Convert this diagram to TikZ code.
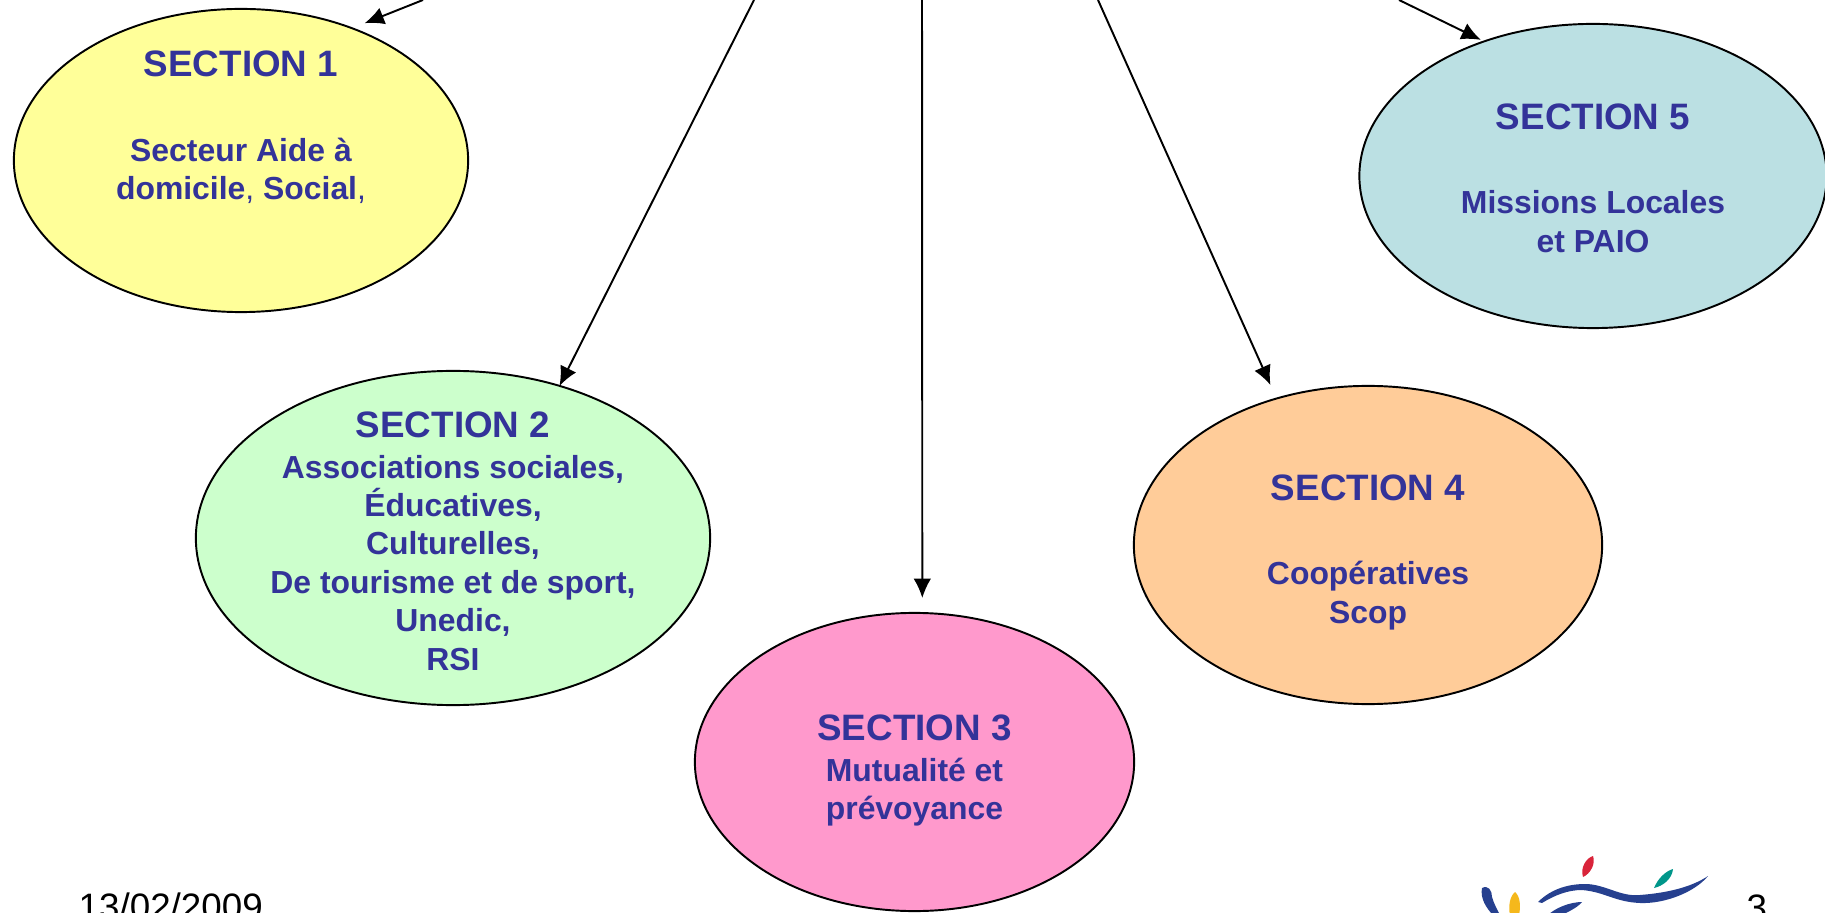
\documentclass[tikz,border=0pt]{standalone}
\usepackage{fontspec}
\setmainfont{Liberation Sans}
\usetikzlibrary{shapes.geometric,arrows.meta}
\definecolor{sectext}{HTML}{333399}
\definecolor{logoblue}{HTML}{26408F}
\definecolor{logored}{HTML}{D9243A}
\definecolor{logoteal}{HTML}{00968A}
\definecolor{logoyellow}{HTML}{F5B81C}
\tikzset{>={Latex[length=5.5pt,width=5pt]}}
\tikzset{
  secbox/.style = {
    ellipse, draw, line width=0.55pt, inner sep=-2cm, outer sep=0pt,
    align=center, text=sectext,
    font=\fontsize{9.07}{10.93}\selectfont\bfseries
  },
  link/.style = {->, line width=0.55pt},
  slide/.style = {font=\fontsize{10.46}{12}\selectfont, anchor=base west, inner sep=0pt}
}
\newcommand{\sectitle}[2][0pt]{{\fontsize{10.46}{10.93}\selectfont\rule{0pt}{#1}#2}}

\begin{document}
\begin{tikzpicture}[x=0.01cm,y=-0.01cm]
  \useasboundingbox (0,0) rectangle (1825,913);
  \clip (0,0) rectangle (1825,913);
  \node[secbox,fill={rgb,255:red,255;green,255;blue,153},minimum width=4.54cm,minimum height=3.03cm] (sec1) at (241,160.5)
    {\sectitle{SECTION 1}\\[13pt]Secteur Aide à\\domicile{\mdseries ,} Social{\mdseries ,}\\[9pt]\mbox{}};
  \node[secbox,fill={rgb,255:red,204;green,255;blue,204},minimum width=5.14cm,minimum height=3.34cm] (sec2) at (453,538)
    {\sectitle[9pt]{SECTION 2}\\[0.7pt]Associations sociales,\\Éducatives,\\Culturelles,\\De tourisme et de sport,\\Unedic,\\RSI};
  \node[secbox,fill={rgb,255:red,255;green,153;blue,204},minimum width=4.39cm,minimum height=2.98cm] (sec3) at (914.5,762)
    {\sectitle[12.2pt]{SECTION 3}\\[0.7pt]Mutualité et\\prévoyance};
  \node[secbox,fill={rgb,255:red,255;green,204;blue,153},minimum width=4.68cm,minimum height=3.18cm] (sec4) at (1368,545)
    {\sectitle[11.6pt]{SECTION 4}\\[13pt]Coopératives\\Scop};
  \node[secbox,fill={rgb,255:red,187;green,224;blue,227},minimum width=4.67cm,minimum height=3.04cm] (sec5) at (1593,176)
    {\sectitle[8.6pt]{SECTION 5}\\[13pt]Missions Locales\\et PAIO};
  \coordinate (top1) at (423,0);
  \coordinate (top2) at (754,0);
  \coordinate (top3) at (922,0);
  \coordinate (top4) at (1098,0);
  \coordinate (top5) at (1399,0);
  \draw[link,shorten >=0.136cm] (top1) -- (sec1.50.5);
  \draw[link] (top2) -- (sec2.55.3);
  \draw[link,shorten >=0.15cm] (top3) -- (sec3.87.1);
  \draw[link,shorten >=0.148cm] (top4) -- (sec4.122.5);
  \draw[link,shorten >=0.036cm] (top5) -- (sec5.129);
  \node[slide] (date) at (78,919) {13/02/2009};
  \node[slide] (page) at (1746,920) {3};
  \fill[logored] (1583,877) .. controls (1580,868) and (1586,858) .. (1593,856) .. controls (1596,864) and (1590,874) .. (1583,877);
  \fill[logoteal] (1654,888) .. controls (1658,878) and (1666,871) .. (1673,869) .. controls (1672,879) and (1663,886) .. (1654,888);
  \fill[logoyellow] (1515,892) .. controls (1520,896) and (1521,906) .. (1519,915) -- (1510,915) .. controls (1508,906) and (1510,896) .. (1515,892);
  \fill[logoblue] (1538,902) .. controls (1552,888) and (1570,884) .. (1585,884) .. controls (1605,884) and (1620,897) .. (1640,895) .. controls (1665,893) and (1690,888) .. (1708,876) .. controls (1695,892) and (1665,904) .. (1640,903) .. controls (1615,902) and (1605,892) .. (1582,890) .. controls (1568,890) and (1555,895) .. (1542,903) -- cycle;
  \fill[logoblue] (1482,888) .. controls (1488,885) and (1492,890) .. (1492,897) .. controls (1494,904) and (1497,909) .. (1500,915) -- (1493,915) .. controls (1486,908) and (1480,898) .. (1482,888);
  \fill[logoblue] (1582,902) .. controls (1570,902) and (1555,908) .. (1548,915) -- (1562,915) .. controls (1570,911) and (1578,907) .. (1582,902);
\end{tikzpicture}
\end{document}
